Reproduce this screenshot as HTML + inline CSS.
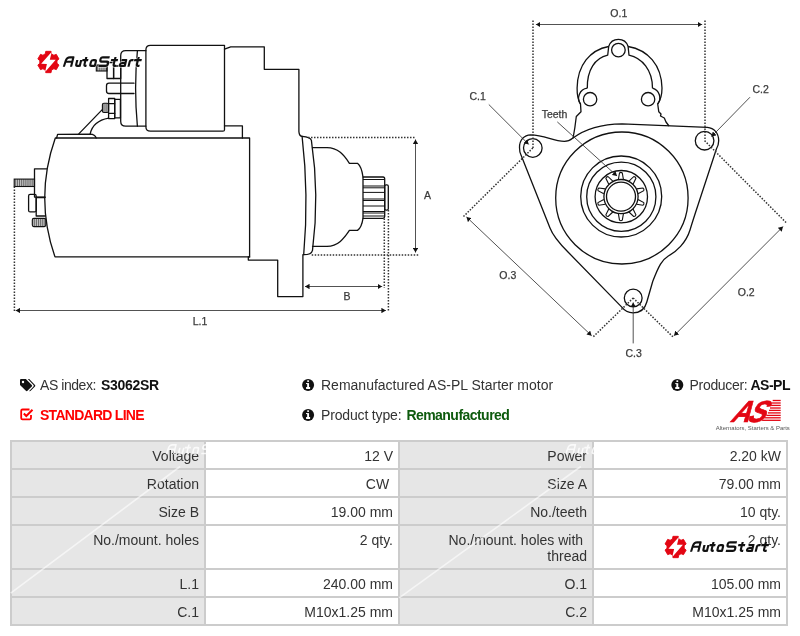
<!DOCTYPE html>
<html><head><meta charset="utf-8">
<style>
html,body{margin:0;padding:0;background:#fff;}
body{width:800px;height:636px;overflow:hidden;position:relative;will-change:transform;font-family:"Liberation Sans",sans-serif;color:#333;}
.abs{position:absolute;}
svg{position:absolute;left:0;top:0;}
.info{position:absolute;font-size:14px;white-space:nowrap;line-height:16px;color:#333;}
.info b{color:#111;}
#tbl{position:absolute;left:10px;top:440px;width:778px;height:186px;background:#ccc;}
.c{position:absolute;box-sizing:border-box;text-align:right;padding:6px 5px 0 0;font-size:14px;line-height:16px;color:#333;white-space:nowrap;}
.l{background:#e6e6e6;}
.v{background:#fff;}
</style></head><body>

<svg width="800" height="360" viewBox="0 0 800 360">
<defs>
<pattern id="hat" width="1.9" height="10" patternUnits="userSpaceOnUse"><rect x="0.3" y="0" width="0.9" height="10" fill="#222"/></pattern>
<marker id="ah" viewBox="0 0 4.2 5" refX="4.2" refY="2.5" markerWidth="4.6" markerHeight="5.4" orient="auto-start-reverse" markerUnits="userSpaceOnUse"><path d="M0,0 L4.2,2.5 L0,5 Z" fill="#111"/></marker>
<g id="logo">
  <path d="M7.48,2.88 L7.94,0.33 L13.26,0.33 L13.72,2.88 L16.08,4.24 L18.51,3.36 L21.17,7.97 L19.19,9.64 L19.19,12.36 L21.17,14.03 L18.51,18.64 L16.08,17.76 L13.72,19.12 L13.26,21.67 L7.94,21.67 L7.48,19.12 L5.12,17.76 L2.69,18.64 L0.03,14.03 L2.01,12.36 L2.01,9.64 L0.03,7.97 L2.69,3.36 L5.12,4.24 Z" fill="#e30613" stroke="#e30613" stroke-width="0.9" stroke-linejoin="round"/>
  <path d="M14.00,0.70 L3.40,12.80 L9.10,12.90 L7.30,20.90 L17.90,8.80 L12.00,8.70 Z" fill="#fff"/>
  <use href="#lt" transform="translate(25.2,15.75) skewX(-14)" fill="none" stroke="#fff" stroke-opacity="0.65" stroke-width="3.6" stroke-linejoin="round"/>
  <g transform="translate(25.2,15.75) skewX(-14)" fill="none" stroke="#111" stroke-width="2.15" stroke-linejoin="round" stroke-linecap="butt"><g id="lt">
    <path d="M0.85,0 L1.3,-6.3 Q1.6,-9.45 4.4,-9.45 L8.05,-9.45 L8.05,0 M1.1,-5 H8.05"/>
    <path d="M12.65,-6.65 V-2.45 Q12.65,-0.85 14.25,-0.85 H16.55 M16.55,-6.65 V0"/>
    <path d="M20.9,-9.8 V-2.45 Q20.9,-0.85 22.5,-0.85 H23.3 M17.6,-6.65 H23.6"/>
    <path d="M28.35,-6.65 H29.95 Q31.55,-6.65 31.55,-5.05 V-0.85 H28.35 Q26.75,-0.85 26.75,-2.45 V-5.05 Q26.75,-6.65 28.35,-6.65 Z"/>
    <path d="M44.25,-9.45 H37.3 Q35.6,-9.45 35.6,-7.5 Q35.6,-5.15 37.3,-5.15 H42.5 Q44.25,-5.15 44.25,-3 Q44.25,-0.85 42.5,-0.85 H35.45"/>
    <path d="M50.1,-9.8 V-2.45 Q50.1,-0.85 51.7,-0.85 H52.8 M46.35,-6.65 H53.25"/>
    <path d="M56.8,-6.65 H61.55 V0 M61.55,-0.85 H57.9 Q56.35,-0.85 56.35,-2.3 Q56.35,-3.75 57.9,-3.75 H61.55"/>
    <path d="M65.45,0 V-4.9 Q65.45,-6.65 67.2,-6.65 H68.85"/>
    <path d="M73.3,-9.8 V-2.45 Q73.3,-0.85 74.9,-0.85 H76.3 M69.5,-6.65 H77"/>
  </g></g>
</g>
</defs>

<g fill="none" stroke="#111" stroke-width="1.3" stroke-linejoin="round" stroke-linecap="round">
  <!-- main body -->
  <path d="M55.3,138 L249.6,138 L249.6,256.9 L55,256.9 Q34.3,197.5 55.3,138 Z" fill="#fff"/>
  <!-- base strip -->
  <path d="M56.6,138 L57.6,134.4 L90.2,134.2 Q95,134.4 96.2,138"/>
  <!-- solenoid -->
  <path d="M150.4,45.3 H224.5 V129.7 Q224.5,131.2 223,131.2 H150.4 Q145.9,131.2 145.9,126.7 V49.8 Q145.9,45.3 150.4,45.3 Z"/>
  <path d="M145.9,50.7 L125.7,50.7 Q120.7,50.7 120.7,55.7 L120.7,121.2 Q120.7,126.2 125.7,126.2 L145.9,126.2"/>
  <path d="M137.4,50.7 Q133.8,88 137.4,126.2"/>
  <!-- housing -->
  <path d="M224.5,49.2 L230.7,46.8 L264.3,46.8 L264.3,69.3 L298.9,69.3 L298.9,131.6 Q299.3,136.3 302.1,136.3"/>
  <path d="M224.5,125.9 L242.4,125.9 L242.4,138"/>
  <path d="M249.6,256.9 L248.3,256.9 L248.3,260.1 L277.7,260.1 L277.7,296.6 L302.9,296.6 L302.9,254.7"/>
  <!-- flange -->
  <path d="M302.1,136.3 Q309,195 303.7,254.7"/>
  <path d="M302.1,136.3 Q310.5,137 311.4,140.4 Q319.6,195 312.5,250.3 Q311.5,254.7 303.7,254.7"/>
  <!-- nose -->
  <path d="M312.5,147.6 L327,147.6 C338,147.6 344,155 349.4,163.3 L357.5,163.3 C361,166 362.3,172 363,177 M363,218.3 C362.3,223 361,228 357.5,230.4 L349.4,230.4 C344,238.5 338,246.3 327,246.3 L312.5,246.3"/>
  <!-- pinion -->
  <path d="M363,177 L383,177 Q384.7,177 384.7,179 L384.7,216.5 Q384.7,218.3 383,218.3 L363,218.3 Z"/>
  <rect x="384.7" y="184.8" width="3.6" height="25.4" rx="1.4"/>
  <!-- middle rod -->
  <path d="M134,83.2 L109,83.2 Q106.5,83.2 106.5,85.7 L106.5,91 Q106.5,93.5 109,93.5 L134,93.5"/>
  <!-- top terminal -->
  <rect x="107" y="62.5" width="6.6" height="16" />
  <rect x="113.6" y="66" width="7.1" height="12.5" />
  <!-- lower terminal -->
  <rect x="108.6" y="98.5" width="6.1" height="20.1"/>
  <path d="M108.6,103.7 L114.7,103.7 M108.6,113.4 L114.7,113.4"/>
  <rect x="114.7" y="99.4" width="5.7" height="18.5"/>
  <!-- wire -->
  <path d="M102,109.9 L78.8,133.9 M108.6,118.2 Q93,121 90.2,133.9"/>
  <!-- end bolts -->
  <path d="M46.6,168.8 H34.5 V197.1 H45.3"/>
  <path d="M44.9,197.5 H36.2 V216 H45.2"/>
  <rect x="28.6" y="194.4" width="7.6" height="17.5" rx="1.5"/>
</g>
<!-- hatched studs -->
<g stroke="#111" stroke-width="1.1">
  <rect x="96.3" y="65" width="10.7" height="6" fill="url(#hat)"/>
  <rect x="102.4" y="103.3" width="6.2" height="9.2" rx="1.5" fill="url(#hat)"/>
  <rect x="14.2" y="179.1" width="20.3" height="7.4" fill="url(#hat)"/>
  <rect x="32.3" y="218.4" width="13.5" height="8.2" rx="1.5" fill="url(#hat)"/>
</g>
<!-- pinion teeth lines -->
<g stroke="#111" stroke-width="1">
  <path d="M363,179.5 H384.7 M363,186 H384.7 M363,187.8 H384.7 M363,192.4 H384.7 M363,199 H384.7 M363,200.5 H384.7 M363,206 H384.7 M363,211.5 H384.7 M363,213 H384.7 M363,216 H384.7"/>
</g>

<!-- dimension lines side view -->
<g fill="none" stroke="#333" stroke-width="0.85">
  <path d="M14.4,186.5 V311" stroke-dasharray="1.5 1.5" stroke-width="1.5"/>
  <path d="M308,137.4 H416" stroke-dasharray="1.5 1.5" stroke-width="1.5"/>
  <path d="M311.7,255 H418.5" stroke-dasharray="1.5 1.5" stroke-width="1.5"/>
  <path d="M384.3,218.5 V288" stroke-dasharray="1.5 1.5" stroke-width="1.5"/>
  <path d="M388.4,210 V311.5" stroke-dasharray="1.5 1.5" stroke-width="1.5"/>
  <path d="M15.6,310.5 H385.9" marker-start="url(#ah)" marker-end="url(#ah)"/>
  <path d="M415.5,139.5 V252.5" marker-start="url(#ah)" marker-end="url(#ah)"/>
  <path d="M305,286.5 H382.2" marker-start="url(#ah)" marker-end="url(#ah)"/>
</g>
<g font-family="Liberation Sans" font-size="10.5" fill="#3a3a3a" stroke="#3a3a3a" stroke-width="0.25" text-anchor="middle">
  <text x="427.4" y="199">A</text>
  <text x="347" y="300">B</text>
  <text x="200" y="325">L.1</text>
</g>

<!-- FRONT VIEW -->
<g fill="none" stroke="#111" stroke-width="1.3" stroke-linejoin="round">
  <!-- outline -->
  <path d="M530.7,134.8 C545,135 553,141.3 564.4,141.3 C568,141.3 570.5,140 572.6,138.2 C585,129 600,124 622,123.8 L707.4,127.4 C714,128 718.7,133 718.7,140.7 C718.7,144 717.5,147 716.4,149 L698,205 C695,214 693,220 690,230 C686,243 676,252 668.3,256 C662,260 659,265 652.7,281.5 L646.8,302 C645,309 640,312.8 633,312.8 C628,312.8 624,310 621.3,306.6 L568,252 C558,242 553,236 550,228 L521,155 C520,153 519.5,150 519.5,147.4 C519.5,140 524,135 530.7,134.8 Z"/>
  <!-- top arch -->
  <path d="M587.3,88.2 C587,70 595,58 607.7,55.2 L608.7,46.5 A10.2,10.2 0 0 1 628.1,46.5 L629,55.2 C642,58 652.5,70 652.5,88.2"/>
  <path d="M608.7,46.5 C590,50 577.5,65 577.1,88 C577,95 578,100 580.5,104"/>
  <path d="M628.1,46.5 C648,50 661.5,65 662,88 C662,95 660.5,100 657.7,104"/>
  <path d="M587.3,88.2 A10,10 0 0 0 580.5,104 L581,111.8 L576.3,116.5 L574.8,128 L573,138.3"/>
  <path d="M652.5,88.2 A10,10 0 0 1 657.7,104 L658.8,111.8 L661,114 L660.5,116 L664.3,118 L666,122 L669,126"/>
  <circle cx="618.4" cy="50.1" r="6.8"/>
  <circle cx="590.1" cy="99.2" r="6.7"/>
  <circle cx="648.1" cy="99.2" r="6.7"/>
  <!-- holes -->
  <circle cx="532.8" cy="148" r="9.3"/>
  <circle cx="704.6" cy="140.7" r="9.3"/>
  <circle cx="633.2" cy="298" r="8.9"/>
  <!-- circles -->
  <ellipse cx="621.9" cy="198" rx="66.2" ry="66"/>
  <circle cx="621.2" cy="196.5" r="40.5"/>
  <circle cx="621.3" cy="196.7" r="34.6"/>
  <circle cx="621.3" cy="196.7" r="26.2"/>
  <circle cx="621" cy="196.6" r="17.1"/>
  <circle cx="621" cy="196.6" r="14.5"/>
</g>
<!-- teeth -->
<g fill="none" stroke="#111" stroke-width="1.1" transform="translate(620.9,196.6)">
  <path d="M-2.5,-17.2 L-1.4,-23.6 Q0,-24.8 1.4,-23.6 L2.5,-17.2" transform="rotate(0)"/>
  <path d="M-2.5,-17.2 L-1.4,-23.6 Q0,-24.8 1.4,-23.6 L2.5,-17.2" transform="rotate(36)"/>
  <path d="M-2.5,-17.2 L-1.4,-23.6 Q0,-24.8 1.4,-23.6 L2.5,-17.2" transform="rotate(72)"/>
  <path d="M-2.5,-17.2 L-1.4,-23.6 Q0,-24.8 1.4,-23.6 L2.5,-17.2" transform="rotate(108)"/>
  <path d="M-2.5,-17.2 L-1.4,-23.6 Q0,-24.8 1.4,-23.6 L2.5,-17.2" transform="rotate(144)"/>
  <path d="M-2.5,-17.2 L-1.4,-23.6 Q0,-24.8 1.4,-23.6 L2.5,-17.2" transform="rotate(180)"/>
  <path d="M-2.5,-17.2 L-1.4,-23.6 Q0,-24.8 1.4,-23.6 L2.5,-17.2" transform="rotate(216)"/>
  <path d="M-2.5,-17.2 L-1.4,-23.6 Q0,-24.8 1.4,-23.6 L2.5,-17.2" transform="rotate(252)"/>
  <path d="M-2.5,-17.2 L-1.4,-23.6 Q0,-24.8 1.4,-23.6 L2.5,-17.2" transform="rotate(288)"/>
  <path d="M-2.5,-17.2 L-1.4,-23.6 Q0,-24.8 1.4,-23.6 L2.5,-17.2" transform="rotate(324)"/>
</g>
<!-- front dims -->
<g fill="none" stroke="#333" stroke-width="0.85">
  <path d="M533,20.6 V148" stroke-dasharray="1.5 1.5" stroke-width="1.5"/>
  <path d="M705,20.6 V140.7" stroke-dasharray="1.5 1.5" stroke-width="1.5"/>
  <path d="M535.9,24.5 H702.2" marker-start="url(#ah)" marker-end="url(#ah)"/>
  <path d="M532.8,148 L463,217" stroke-dasharray="1.5 1.5" stroke-width="1.5"/>
  <path d="M704.6,140.7 L787,223.5" stroke-dasharray="1.5 1.5" stroke-width="1.5"/>
  <path d="M633.2,298 L592.7,337.3 M633.2,298 L673.4,337.3" stroke-dasharray="1.5 1.5" stroke-width="1.5"/>
  <path d="M466.5,217 L591.6,335.7" marker-start="url(#ah)" marker-end="url(#ah)"/>
  <path d="M783,226.6 L674,335.7" marker-start="url(#ah)" marker-end="url(#ah)"/>
  <path d="M488.8,104.5 L528.7,144.4" marker-end="url(#ah)"/>
  <path d="M750,97.2 L711.5,136.6" marker-end="url(#ah)"/>
  <path d="M633.2,343.4 V302.5" marker-end="url(#ah)"/>
  <path d="M557.3,121.9 L617,176" marker-end="url(#ah)"/>
</g>
<g font-family="Liberation Sans" font-size="10.5" fill="#3a3a3a" stroke="#3a3a3a" stroke-width="0.25" text-anchor="middle">
  <text x="618.8" y="16.5">O.1</text>
  <text x="477.6" y="100.3">C.1</text>
  <text x="760.6" y="93.2">C.2</text>
  <text x="633.6" y="356.6">C.3</text>
  <text x="507.8" y="279">O.3</text>
  <text x="746.2" y="296.3">O.2</text>
  <text x="554.5" y="118">Teeth</text>
</g>
<use href="#logo" x="37.8" y="51"/>
</svg>

<!-- info -->
<div class="info" style="left:40px;top:377px;letter-spacing:-0.45px">AS index:</div><div class="info" style="left:101px;top:377px"><b style="letter-spacing:-0.32px">S3062SR</b></div>
<div class="info" style="left:40px;top:407px;color:#ff0000;font-weight:bold;letter-spacing:-0.73px">STANDARD LINE</div>
<div class="info" style="left:321px;top:377px">Remanufactured AS-PL Starter motor</div>
<div class="info" style="left:321px;top:407px;letter-spacing:-0.16px">Product type:</div><div class="info" style="left:406.4px;top:407px"><b style="color:#0d5a0d;letter-spacing:-0.54px">Remanufactured</b></div>
<div class="info" style="left:689.6px;top:377px;letter-spacing:-0.33px">Producer:</div><div class="info" style="right:10px;top:377px"><b style="letter-spacing:-0.48px">AS-PL</b></div>

<!-- table -->
<div id="tbl"></div>
<div class="c l" style="left:12px;top:442px;width:192px;height:26px">Voltage</div>
<div class="c v" style="left:206px;top:442px;width:192px;height:26px">12 V</div>
<div class="c l" style="left:400px;top:442px;width:192px;height:26px">Power</div>
<div class="c v" style="left:594px;top:442px;width:192px;height:26px">2.20 kW</div>

<div class="c l" style="left:12px;top:470px;width:192px;height:26px">Rotation</div>
<div class="c v" style="left:206px;top:470px;width:192px;height:26px">CW&nbsp;</div>
<div class="c l" style="left:400px;top:470px;width:192px;height:26px">Size A</div>
<div class="c v" style="left:594px;top:470px;width:192px;height:26px">79.00 mm</div>

<div class="c l" style="left:12px;top:498px;width:192px;height:26px">Size B</div>
<div class="c v" style="left:206px;top:498px;width:192px;height:26px">19.00 mm</div>
<div class="c l" style="left:400px;top:498px;width:192px;height:26px">No./teeth</div>
<div class="c v" style="left:594px;top:498px;width:192px;height:26px">10 qty.</div>

<div class="c l" style="left:12px;top:526px;width:192px;height:42px">No./mount. holes</div>
<div class="c v" style="left:206px;top:526px;width:192px;height:42px">2 qty.</div>
<div class="c l" style="left:400px;top:526px;width:192px;height:42px">No./mount. holes with&nbsp;<br>thread</div>
<div class="c v" style="left:594px;top:526px;width:192px;height:42px">2 qty.</div>

<div class="c l" style="left:12px;top:570px;width:192px;height:26px">L.1</div>
<div class="c v" style="left:206px;top:570px;width:192px;height:26px">240.00 mm</div>
<div class="c l" style="left:400px;top:570px;width:192px;height:26px">O.1</div>
<div class="c v" style="left:594px;top:570px;width:192px;height:26px">105.00 mm</div>

<div class="c l" style="left:12px;top:598px;width:192px;height:26px">C.1</div>
<div class="c v" style="left:206px;top:598px;width:192px;height:26px">M10x1.25 mm</div>
<div class="c l" style="left:400px;top:598px;width:192px;height:26px">C.2</div>
<div class="c v" style="left:594px;top:598px;width:192px;height:26px">M10x1.25 mm</div>


<svg class="abs" style="left:0;top:360px" width="800" height="276" viewBox="0 360 800 276">
  <defs>
    <g id="info">
      <circle cx="0" cy="0" r="6" fill="#111"/>
      <rect x="-0.95" y="-4.75" width="1.9" height="1.8" rx="0.6" fill="#fff"/>
      <rect x="-0.95" y="-1.8" width="1.9" height="4.9" fill="#fff"/>
      <rect x="-2.05" y="2.1" width="4.1" height="1.9" rx="0.3" fill="#fff"/>
      <rect x="-2.05" y="-1.9" width="1.6" height="1.05" fill="#fff"/>
    </g>
  </defs>
  <!-- tag icon -->
  <g transform="translate(20,379) scale(1.07)">
    <path d="M0,1 Q0,0 1,0 L5.5,0 L11,5.5 Q11.7,6.2 11,7 L7,11 Q6.2,11.7 5.5,11 L0,5.5 Z" fill="#111"/>
    <circle cx="2.8" cy="2.8" r="1.1" fill="#fff"/>
    <path d="M7.3,0 L8.6,0 L14,5.5 Q14.7,6.2 14,7 L10,11 Q9.3,11.7 8.6,11.1 L12.6,7 Q13.3,6.2 12.6,5.5 Z" fill="#111"/>
  </g>
  <!-- check icon -->
  <g transform="translate(20,408)">
    <path d="M9.5,1.5 H2.5 Q1.2,1.5 1.2,2.8 V10 Q1.2,11.3 2.5,11.3 H9.7 Q11,11.3 11,10 V7" fill="none" stroke="#ff0000" stroke-width="1.8"/>
    <path d="M3.8,5.5 L6.3,8 L12.5,1.8" fill="none" stroke="#ff0000" stroke-width="2"/>
  </g>
  <use href="#info" x="308.1" y="384.9"/>
  <use href="#info" x="308.1" y="414.9"/>
  <use href="#info" x="677.3" y="385"/>
  <!-- AS logo -->
  <g fill="#e30613">
    <rect x="772.7" y="399.85" width="8.0" height="1.3"/>
    <rect x="771.6" y="402.35" width="9.1" height="1.3"/>
    <rect x="771.1" y="404.75" width="9.6" height="1.3"/>
    <rect x="770" y="407.35" width="10.7" height="1.3"/>
    <rect x="769" y="409.75" width="11.7" height="1.3"/>
    <rect x="767.9" y="412.25" width="12.8" height="1.3"/>
    <rect x="766.3" y="414.75" width="14.4" height="1.3"/>
    <rect x="764.2" y="417.15" width="16.5" height="1.3"/>
    <rect x="762.1" y="419.65" width="18.6" height="1.3"/>
  </g>
  <text transform="translate(729.5,421.6) skewX(-30) scale(0.86,1)" x="0" y="0" font-family="Liberation Sans" font-weight="bold" font-size="30.4" fill="#e30613" stroke="#e30613" stroke-width="0.7" letter-spacing="-3">AS</text>
  <text x="752.8" y="429.5" font-family="Liberation Sans" font-size="5.8" fill="#555" text-anchor="middle" textLength="74" lengthAdjust="spacingAndGlyphs">Alternators, Starters &amp; Parts</text>
  <!-- watermark -->
  <g stroke="#fff" stroke-width="1.6" stroke-opacity="0.6" fill="none">
    <path d="M10.7,593.2 L180.1,466.5"/>
    <path d="M399.2,597.8 L580.8,466.5"/>
  </g>
  <g fill="none" stroke="#fff" stroke-opacity="0.8" stroke-width="1.6" stroke-linejoin="round">
    <use href="#lt" transform="translate(165.6,454.3) skewX(-14)"/>
    <use href="#lt" transform="translate(565,454.3) skewX(-14)"/>
  </g>
  <use href="#logo" x="665" y="536"/>
</svg>
</body></html>
